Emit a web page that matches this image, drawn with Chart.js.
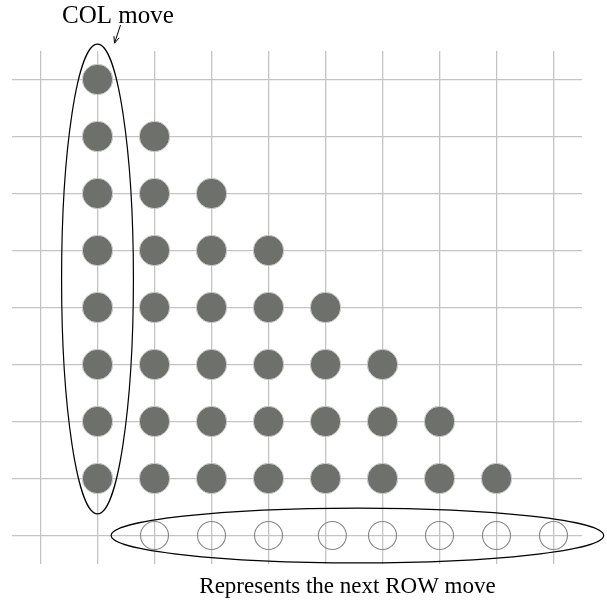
<!DOCTYPE html>
<html>
<head>
<meta charset="utf-8">
<script src="https://cdn.jsdelivr.net/npm/chart.js@4.4.1/dist/chart.umd.min.js"></script>
<style>
  body { margin: 0; background: #fff; }
  #wrap { width: 607px; height: 602px; }
</style>
</head>
<body>
<div id="wrap"><canvas id="moves_chart"></canvas></div>
<script>
// grid positions (columns / rows)
var xTicks = [0, 1, 2, 3, 4, 5, 6, 7, 8, 9];
var yTicks = [0, 1, 2, 3, 4, 5, 6, 7, 8];

// filled pieces
var filledX = [1, 1, 1, 1, 1, 1, 1, 1,
               2, 2, 2, 2, 2, 2, 2,
               3, 3, 3, 3, 3, 3,
               4, 4, 4, 4, 4,
               5, 5, 5, 5,
               6, 6, 6,
               7, 7,
               8];
var filledY = [1, 2, 3, 4, 5, 6, 7, 8,
               1, 2, 3, 4, 5, 6, 7,
               1, 2, 3, 4, 5, 6,
               1, 2, 3, 4, 5,
               1, 2, 3, 4,
               1, 2, 3,
               1, 2,
               1];

// next ROW move (open circles)
var openX = [2, 3, 4, 5.12, 6, 7, 8, 9];
var openY = [0, 0, 0, 0, 0, 0, 0, 0];

// ellipses in grid units: [cx, cy, rx, ry]
var colEllipse = [1, 4.5, 0.63, 4.12];
var rowEllipse = [5.56, 0, 4.32, 0.48];

var colLabel = "COL move";
var rowLabel = "Represents the next ROW move";

function toPoints(xs, ys) {
    var pts = [];
    for (var i = 0; i < xs.length; i++) pts.push({x: xs[i], y: ys[i]});
    return pts;
}

var notes = {
    id: "notes",
    afterDraw: function (chart) {
        var ctx = chart.ctx;
        var sx = chart.scales.x, sy = chart.scales.y;
        var unitX = sx.getPixelForValue(1) - sx.getPixelForValue(0);
        var unitY = sy.getPixelForValue(0) - sy.getPixelForValue(1);

        ctx.save();
        ctx.strokeStyle = "#000";
        ctx.lineWidth = 1.2;
        [colEllipse, rowEllipse].forEach(function (e) {
            ctx.beginPath();
            ctx.ellipse(sx.getPixelForValue(e[0]), sy.getPixelForValue(e[1]),
                        e[2] * unitX, e[3] * unitY, 0, 0, Math.PI * 2);
            ctx.stroke();
        });

        // arrow from label to the column ellipse
        var ax = sx.getPixelForValue(colEllipse[0]) + 17;
        var ay = sy.getPixelForValue(colEllipse[1] + colEllipse[3]) - 1;
        var bx = ax + 6, by = 25;
        ctx.lineWidth = 1;
        ctx.beginPath();
        ctx.moveTo(bx, by);
        ctx.lineTo(ax, ay);
        var ang = Math.atan2(ay - by, ax - bx);
        ctx.moveTo(ax - 7 * Math.cos(ang - 0.4), ay - 7 * Math.sin(ang - 0.4));
        ctx.lineTo(ax, ay);
        ctx.lineTo(ax - 7 * Math.cos(ang + 0.4), ay - 7 * Math.sin(ang + 0.4));
        ctx.stroke();

        ctx.fillStyle = "#000";
        ctx.textAlign = "center";
        ctx.textBaseline = "alphabetic";
        ctx.font = "25px 'Liberation Serif', 'Times New Roman', serif";
        ctx.fillText(colLabel, 118, 23);
        ctx.font = "23px 'Liberation Serif', 'Times New Roman', serif";
        ctx.fillText(rowLabel, 347.5, 593);
        ctx.restore();
    }
};

var grid = {
    color: "#c4c4c4",
    lineWidth: 1.3,
    drawTicks: false,
    tickLength: 0
};

new Chart(document.getElementById("moves_chart"), {
    type: "scatter",
    data: {
        datasets: [{
            label: "pieces",
            data: toPoints(filledX, filledY),
            pointRadius: 15.2,
            pointHoverRadius: 15.2,
            backgroundColor: "#6e706c",
            borderColor: "#cfcfcf",
            borderWidth: 1
        }, {
            label: "next row",
            data: toPoints(openX, openY),
            pointRadius: 14,
            pointHoverRadius: 14,
            backgroundColor: "rgba(0,0,0,0)",
            borderColor: "#858585",
            borderWidth: 1.1
        }]
    },
    options: {
        responsive: true,
        maintainAspectRatio: false,
        animation: false,
        layout: { autoPadding: false, padding: { left: 12, right: 25, top: 51, bottom: 38 } },
        plugins: {
            legend: { display: false },
            tooltip: { enabled: false }
        },
        scales: {
            x: {
                type: "linear",
                min: -0.5,
                max: 9.5,
                z: 1,
                afterBuildTicks: function (s) { s.ticks = xTicks.map(function (v) { return {value: v}; }); },
                ticks: { display: false },
                border: { display: false },
                grid: grid
            },
            y: {
                type: "linear",
                min: -0.5,
                max: 8.5,
                z: 1,
                afterBuildTicks: function (s) { s.ticks = yTicks.map(function (v) { return {value: v}; }); },
                ticks: { display: false },
                border: { display: false },
                grid: grid
            }
        }
    },
    plugins: [notes]
});
</script>
</body>
</html>
